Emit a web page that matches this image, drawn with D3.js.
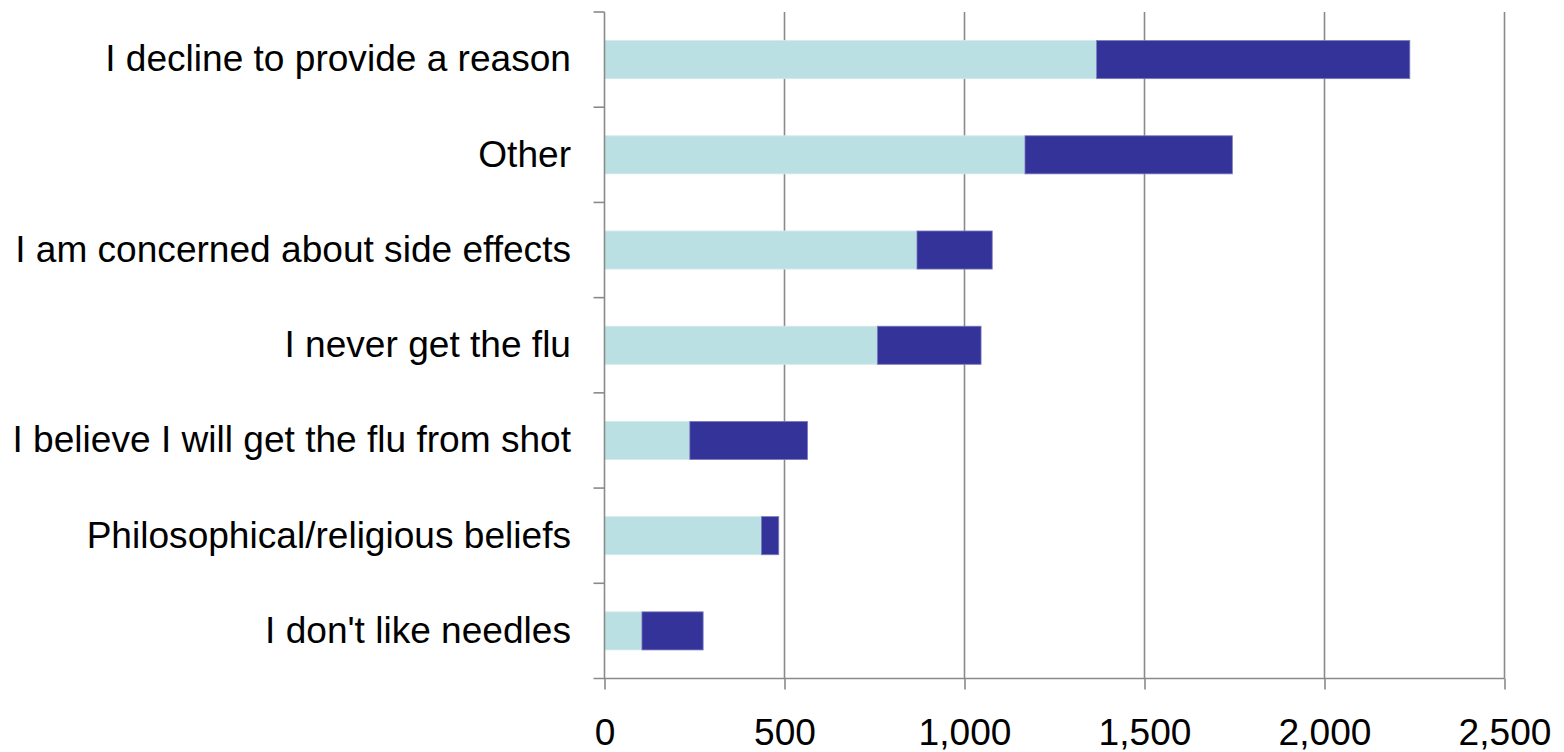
<!DOCTYPE html>
<html><head><meta charset="utf-8">
<script src="https://cdn.jsdelivr.net/npm/d3@7"></script>
<style>body{margin:0;background:#fff}svg{display:block}</style>
</head><body>
<svg id="c" width="1564" height="752"></svg>
<script>
const categories = ["I decline to provide a reason","Other","I am concerned about side effects","I never get the flu","I believe I will get the flu from shot","Philosophical/religious beliefs","I don't like needles"];
const series1 = [1367,1168,868,758,237,436,104];
const series2 = [870,576,209,288,327,48,170];
const tickValues = [0,500,1000,1500,2000,2500];
const colors = ["#BBE0E3","#333399"];

(function(){
const svg = d3.select("#c");
const pLeft = 604.5, pRight = 1504.5, pTop = 12, pBottom = 678.5;
const fontSize = 37.1;
const x = d3.scaleLinear().domain([0,2500]).range([pLeft,pRight]);
const y = d3.scaleBand().domain(categories).range([pTop,pBottom]).paddingInner(0.6).paddingOuter(0.3);
const yb = d3.scaleBand().domain(categories).range([pTop,pBottom]);
const axisColor = "#8a8a8a";

svg.append("g").selectAll("line").data(tickValues.slice(1)).join("line")
  .attr("x1",d=>x(d)).attr("x2",d=>x(d)).attr("y1",pTop).attr("y2",pBottom)
  .attr("stroke",axisColor).attr("stroke-width",1.6);

const stacked = categories.map((c,i)=>({c, a:series1[i], b:series2[i]}));
const g = svg.append("g");
g.selectAll("rect.s1").data(stacked).join("rect").attr("class","s1")
  .attr("x",x(0)).attr("y",d=>y(d.c)).attr("width",d=>x(d.a)-x(0)).attr("height",y.bandwidth())
  .attr("fill",colors[0]).attr("stroke","#d4eaec").attr("stroke-width",0.8);
g.selectAll("rect.s2").data(stacked).join("rect").attr("class","s2")
  .attr("x",d=>x(d.a)).attr("y",d=>y(d.c)).attr("width",d=>x(d.a+d.b)-x(d.a)).attr("height",y.bandwidth())
  .attr("fill",colors[1]).attr("stroke","#7a7abf").attr("stroke-width",0.8);

const xAxis = d3.axisBottom(x).tickValues(tickValues).tickSize(11).tickPadding(30)
  .tickFormat(d3.format(","));
const xg = svg.append("g").attr("transform",`translate(0,${pBottom})`).call(xAxis);
xg.select(".domain").remove();
xg.append("line").attr("x1",pLeft-11).attr("x2",pRight).attr("stroke",axisColor).attr("stroke-width",1.6);
xg.selectAll(".tick line").attr("stroke",axisColor).attr("stroke-width",1.6);
xg.selectAll(".tick text").attr("fill","#000").attr("font-size",fontSize).attr("font-family","Liberation Sans, Arial, sans-serif")
  .attr("y",66.5).attr("dy",0);

const yAxis = d3.axisLeft(yb).tickSize(0).tickPadding(33.5);
const yg = svg.append("g").attr("transform",`translate(${pLeft},0)`).call(yAxis);
yg.select(".domain").remove();
yg.append("line").attr("y1",pTop).attr("y2",pBottom).attr("stroke",axisColor).attr("stroke-width",1.6);
yg.selectAll(".ybt").data(categories).join("line").attr("class","ybt")
  .attr("x1",-11).attr("x2",0).attr("y1",d=>yb(d)).attr("y2",d=>yb(d))
  .attr("stroke",axisColor).attr("stroke-width",1.6);
yg.selectAll(".tick text").attr("fill","#000").attr("font-size",fontSize).attr("font-family","Liberation Sans, Arial, sans-serif");
})();
</script>
</body></html>
